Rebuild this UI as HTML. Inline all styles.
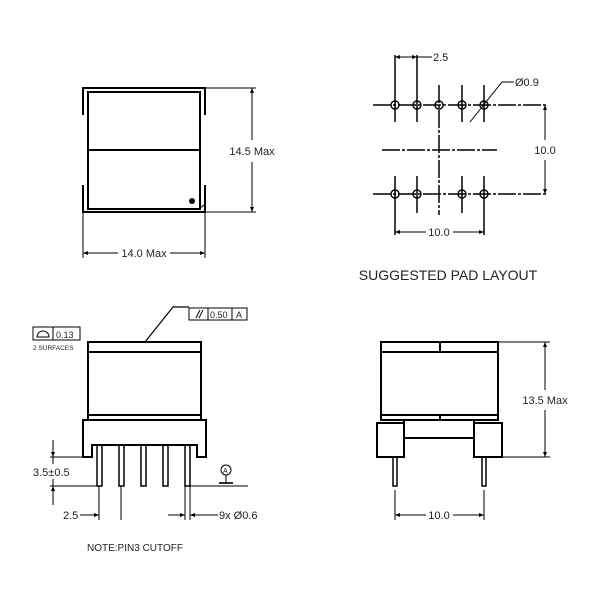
<!DOCTYPE html>
<html><head><style>html,body{margin:0;padding:0;background:#fff}svg{display:block}text{font-family:"Liberation Sans",sans-serif;fill:#222}</style></head>
<body>
<svg width="600" height="600" viewBox="0 0 600 600" xmlns="http://www.w3.org/2000/svg">
<defs>
<marker id="a" viewBox="0 0 10 10" refX="10" refY="5" markerWidth="6" markerHeight="5" orient="auto-start-reverse"><path d="M0,1L10,5L0,9z" fill="#000"/></marker>
</defs>
<g stroke="#000" stroke-width="2" fill="none">
<!-- Top-left view -->
<path d="M83,115V88H205V115"/>
<path d="M83,185V212H205V185"/>
<rect x="88" y="92" width="112" height="117"/>
<line x1="88" y1="150" x2="200" y2="150"/>
<line x1="205" y1="88" x2="256" y2="88" stroke-width="1"/>
<line x1="205" y1="212" x2="256" y2="212" stroke-width="1"/>
<line x1="198" y1="210" x2="205" y2="204" stroke-width="1"/>
<line x1="252" y1="88" x2="252" y2="140" stroke-width="1" marker-start="url(#a)"/>
<line x1="252" y1="162" x2="252" y2="212" stroke-width="1" marker-end="url(#a)"/>
<line x1="83" y1="212" x2="83" y2="258" stroke-width="1"/>
<line x1="205" y1="212" x2="205" y2="258" stroke-width="1"/>
<line x1="83" y1="253" x2="118" y2="253" stroke-width="1" marker-start="url(#a)"/>
<line x1="170" y1="253" x2="205" y2="253" stroke-width="1" marker-end="url(#a)"/>

<!-- Pad layout -->
<g stroke-width="1.5">
<line x1="373" y1="105" x2="548" y2="105" stroke-dasharray="18,2,3,2"/>
<line x1="373" y1="194" x2="548" y2="194" stroke-dasharray="18,2,3,2"/>
<line x1="382" y1="150" x2="497" y2="150" stroke-dasharray="18,2,3,2"/>
<line x1="439" y1="85" x2="439" y2="215" stroke-dasharray="18,2,3,2"/>
<line x1="395" y1="55" x2="395" y2="122"/>
<line x1="417" y1="55" x2="417" y2="122"/>
<line x1="462" y1="85" x2="462" y2="122"/>
<line x1="484" y1="85" x2="484" y2="122"/>
<line x1="395" y1="176" x2="395" y2="235"/>
<line x1="417" y1="176" x2="417" y2="213"/>
<line x1="462" y1="176" x2="462" y2="213"/>
<line x1="484" y1="176" x2="484" y2="235"/>
</g>
<g stroke-width="1.4">
<circle cx="395" cy="105" r="4"/><circle cx="417" cy="105" r="4"/><circle cx="439" cy="105" r="4"/><circle cx="462" cy="105" r="4"/><circle cx="484" cy="105" r="4"/>
<circle cx="395" cy="194" r="4"/><circle cx="417" cy="194" r="4"/><circle cx="462" cy="194" r="4"/><circle cx="484" cy="194" r="4"/>
</g>
<line x1="395" y1="57" x2="417" y2="57" stroke-width="1" marker-start="url(#a)" marker-end="url(#a)"/>
<line x1="417" y1="57" x2="432" y2="57" stroke-width="1"/>
<polyline points="470,122 502,82 514,82" stroke-width="1"/>
<line x1="545" y1="105" x2="545" y2="140" stroke-width="1" marker-start="url(#a)"/>
<line x1="545" y1="160" x2="545" y2="194" stroke-width="1" marker-end="url(#a)"/>
<line x1="395" y1="232" x2="426" y2="232" stroke-width="1" marker-start="url(#a)"/>
<line x1="453" y1="232" x2="484" y2="232" stroke-width="1" marker-end="url(#a)"/>

<!-- Bottom-left view -->
<rect x="88" y="342" width="113" height="10"/>
<rect x="88" y="352" width="113" height="63"/>
<rect x="88" y="415" width="113" height="5"/>
<path d="M83,420V457H92V445H197V457H206V420Z"/>
<g stroke-width="1.5">
<rect x="97" y="445" width="5" height="41"/>
<rect x="119" y="445" width="5" height="41"/>
<rect x="141" y="445" width="5" height="41"/>
<rect x="163" y="445" width="5" height="41"/>
<rect x="185" y="445" width="5" height="41"/>
</g>
<polyline points="145,342 173,307 189,307" stroke-width="1.2"/>
<g stroke-width="1">
<rect x="189" y="308" width="58" height="12"/>
<line x1="208" y1="308" x2="208" y2="320"/><line x1="232" y1="308" x2="232" y2="320"/>
<line x1="196" y1="318" x2="200" y2="310"/><line x1="199" y1="318" x2="203" y2="310"/>
<rect x="33" y="327" width="47" height="13"/>
<line x1="53" y1="327" x2="53" y2="340"/>
<path d="M37,337A6,6 0 0 1 49,337Z"/>
<line x1="50" y1="457" x2="83" y2="457"/>
<line x1="50" y1="486" x2="97" y2="486"/>
<line x1="53" y1="440" x2="53" y2="457" marker-end="url(#a)"/>
<line x1="53" y1="505" x2="53" y2="486" marker-end="url(#a)"/>
<line x1="53" y1="457" x2="53" y2="464"/><line x1="53" y1="479" x2="53" y2="486"/>
<line x1="190" y1="486" x2="248" y2="486"/>
<circle cx="226" cy="470" r="5"/>
<line x1="226" y1="475" x2="226" y2="483"/>
<line x1="219" y1="483" x2="233" y2="483" stroke-width="1.6"/>
<line x1="99" y1="486" x2="99" y2="520"/><line x1="121" y1="486" x2="121" y2="520"/>
<line x1="185" y1="486" x2="185" y2="520"/><line x1="190" y1="486" x2="190" y2="520"/>
<line x1="80" y1="515" x2="99" y2="515" marker-end="url(#a)"/>
<line x1="168" y1="515" x2="185" y2="515" marker-end="url(#a)"/>
<line x1="218" y1="515" x2="190" y2="515" marker-end="url(#a)"/>
</g>

<!-- Bottom-right view -->
<rect x="381" y="342" width="117" height="10"/>
<line x1="440" y1="342" x2="440" y2="352"/>
<rect x="381" y="352" width="117" height="63"/>
<rect x="381" y="415" width="117" height="5"/>
<line x1="440" y1="415" x2="440" y2="420"/>
<rect x="377" y="423" width="27" height="34"/>
<rect x="474" y="423" width="28" height="34"/>
<path d="M404,420V438H474V420"/>
<rect x="393" y="457" width="4" height="29" stroke-width="1.5"/>
<rect x="482" y="457" width="4" height="29" stroke-width="1.5"/>
<g stroke-width="1">
<line x1="498" y1="342" x2="550" y2="342"/>
<line x1="502" y1="457" x2="550" y2="457"/>
<line x1="545" y1="342" x2="545" y2="390" marker-start="url(#a)"/>
<line x1="545" y1="410" x2="545" y2="457" marker-end="url(#a)"/>
<line x1="395" y1="490" x2="395" y2="520"/><line x1="484" y1="490" x2="484" y2="520"/>
<line x1="395" y1="515" x2="426" y2="515" marker-start="url(#a)"/>
<line x1="453" y1="515" x2="484" y2="515" marker-end="url(#a)"/>
</g>
</g>
<circle cx="192" cy="201" r="3" fill="#000"/>

<g font-size="11">
<text x="252" y="155" text-anchor="middle">14.5 Max</text>
<text x="144" y="257" text-anchor="middle">14.0 Max</text>
<text x="433" y="61">2.5</text>
<text x="515" y="86">Ø0.9</text>
<text x="545" y="154" text-anchor="middle">10.0</text>
<text x="439" y="236" text-anchor="middle">10.0</text>
<text x="448" y="280" text-anchor="middle" font-size="14">SUGGESTED PAD LAYOUT</text>
<text x="210" y="318" font-size="9">0.50</text>
<text x="236" y="318" font-size="9">A</text>
<text x="56" y="338" font-size="9">0.13</text>
<text x="33" y="350" font-size="6.5">2 SURFACES</text>
<text x="33" y="476">3.5±0.5</text>
<text x="223" y="473" font-size="7">A</text>
<text x="63" y="519">2.5</text>
<text x="219" y="519">9x Ø0.6</text>
<text x="545" y="404" text-anchor="middle">13.5 Max</text>
<text x="439" y="519" text-anchor="middle">10.0</text>
<text x="87" y="551" font-size="10">NOTE:PIN3 CUTOFF</text>
</g>
</svg>
</body></html>
